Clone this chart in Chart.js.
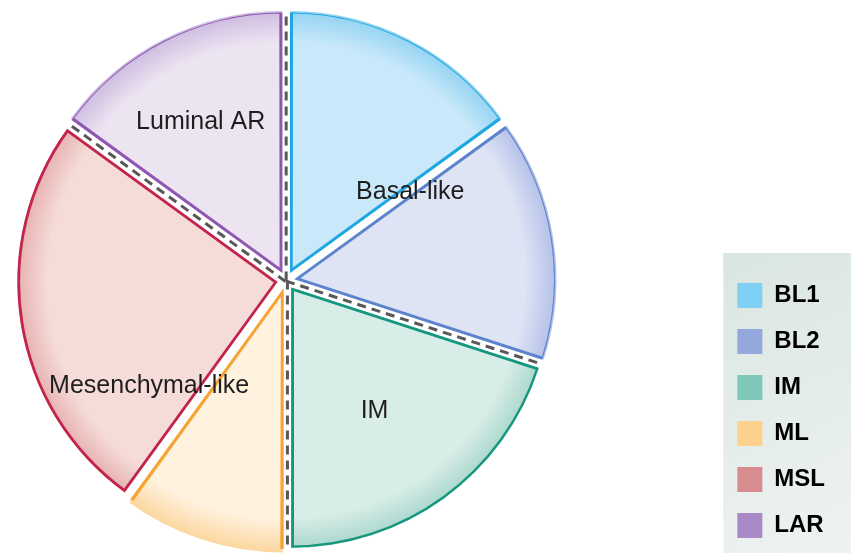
<!DOCTYPE html>
<html>
<head>
<meta charset="utf-8">
<title>TNBC subtypes</title>
<script src="https://cdn.jsdelivr.net/npm/chart.js@4.4.1/dist/chart.umd.min.js"></script>
<style>
  html, body { margin: 0; padding: 0; background: #fff; overflow: hidden; }
  #frame { width: 851px; height: 553px; overflow: hidden; position: relative; }
  /* the canvas is wider than the frame so the pie can sit left of the plot area's middle */
  #subtypeChart { display: block; position: absolute; left: -144px; top: 0; }
</style>
</head>
<body>
<div id="frame">
  <canvas id="subtypeChart" width="995" height="553"></canvas>
</div>
<script>
  // share of each subtype (percent), clockwise from 12 o'clock
  const subtypes = ['BL1', 'BL2', 'IM', 'ML', 'MSL', 'LAR'];
  const shares = [15, 15, 20, 10, 25, 15];

  // subtypes that belong together get one caption and dashed dividers around them
  const groupNames = ['Basal-like', 'IM', 'Mesenchymal-like', 'Luminal AR'];
  const groupMembers = [['BL1', 'BL2'], ['IM'], ['ML', 'MSL'], ['LAR']];

  const sliceFill = ['#c9e9fa', '#dfe4f5', '#d8ede7', '#fff2df', '#f5dcd9', '#ece4f1'];
  const sliceRim = ['#8fd1f2', '#afbde7', '#a5d5ca', '#fcd69e', '#e4acab', '#ccb8df'];
  const sliceEdge = ['#1ea7e1', '#5b84cc', '#14977e', '#f6a434', '#c3244b', '#8f57b1'];
  const keyColors = ['#7fd0f5', '#95a8de', '#7fc7bb', '#fdd18c', '#d98c8f', '#aa89c8'];

  const RADIUS = 260;
  const EXPLODE = 36;   // arc offset option, every slice moves out by a quarter of it

  // caption placement: fraction of the radius, and a small turn in degrees
  const captionDepth = [0.59, 0.6, 0.66, 0.7];
  const captionTurn = [0, 1.5, -10, -1];

  function pieCenter(chart) {
    const a = chart.chartArea;
    return { x: (a.left + a.right) / 2, y: (a.top + a.bottom) / 2 };
  }

  function sliceGradient(ctx) {
    const chart = ctx.chart;
    const i = ctx.dataIndex;
    if (!chart.chartArea) return sliceFill[i];
    const c = pieCenter(chart);
    const g = chart.ctx.createRadialGradient(c.x, c.y, 0, c.x, c.y, RADIUS + 4);
    g.addColorStop(0, sliceFill[i]);
    g.addColorStop(0.87, sliceFill[i]);
    g.addColorStop(1, sliceRim[i]);
    return g;
  }

  // light panel behind the legend
  const keyPanel = {
    id: 'keyPanel',
    beforeDraw(chart) {
      const lg = chart.legend;
      if (!lg || !lg.legendHitBoxes.length) return;
      const ctx = chart.ctx;
      const x = lg.left + 7;
      const y = lg.legendHitBoxes[0].top - 30;
      const g = ctx.createLinearGradient(x, y, chart.width, chart.height);
      g.addColorStop(0, '#dae6e1');
      g.addColorStop(1, '#eef3f1');
      ctx.save();
      ctx.fillStyle = g;
      ctx.fillRect(x, y, chart.width - x, chart.height - y);
      ctx.restore();
    }
  };

  // dashed dividers between groups, run down the middle of the white gap
  const dividers = {
    id: 'dividers',
    afterDatasetsDraw(chart) {
      const arcs = chart.getDatasetMeta(0).data;
      const ctx = chart.ctx;
      const shift = EXPLODE / 4;
      ctx.save();
      ctx.strokeStyle = '#585858';
      ctx.lineWidth = 3;
      ctx.setLineDash([9, 6]);
      groupMembers.forEach(members => {
        const b = subtypes.indexOf(members[0]);
        const a = (b + subtypes.length - 1) % subtypes.length;
        const arcA = arcs[a], arcB = arcs[b];
        const phi = arcB.startAngle;
        const hA = (arcA.endAngle - arcA.startAngle) / 2;
        const hB = (arcB.endAngle - arcB.startAngle) / 2;
        const n = shift * (Math.sin(hB) - Math.sin(hA)) / 2;
        const ox = arcB.x - Math.sin(phi) * n;
        const oy = arcB.y + Math.cos(phi) * n;
        const len = arcB.outerRadius + shift - 1;
        ctx.beginPath();
        ctx.moveTo(ox, oy);
        ctx.lineTo(ox + Math.cos(phi) * len, oy + Math.sin(phi) * len);
        ctx.stroke();
      });
      ctx.restore();
    }
  };

  // group captions inside the pie
  const captions = {
    id: 'captions',
    afterDatasetsDraw(chart) {
      const arcs = chart.getDatasetMeta(0).data;
      const ctx = chart.ctx;
      ctx.save();
      ctx.fillStyle = '#1e1e1e';
      ctx.font = '25px "Liberation Sans", Arial, sans-serif';
      ctx.textAlign = 'center';
      ctx.textBaseline = 'middle';
      groupMembers.forEach((members, g) => {
        const first = arcs[subtypes.indexOf(members[0])];
        const last = arcs[subtypes.indexOf(members[members.length - 1])];
        const mid = (first.startAngle + last.endAngle) / 2 + captionTurn[g] * Math.PI / 180;
        const r = first.outerRadius * captionDepth[g];
        ctx.fillText(groupNames[g], first.x + Math.cos(mid) * r, first.y + Math.sin(mid) * r + 2);
      });
      ctx.restore();
    }
  };

  new Chart(document.getElementById('subtypeChart'), {
    type: 'pie',
    data: {
      labels: subtypes,
      datasets: [{
        data: shares,
        backgroundColor: sliceGradient,
        borderColor: sliceEdge,
        borderWidth: 2.5,
        borderAlign: 'inner',
        offset: EXPLODE,
        hoverOffset: 0
      }]
    },
    options: {
      responsive: false,
      animation: false,
      radius: RADIUS,
      layout: { padding: { left: 0, right: 16, top: 8, bottom: -6 } },
      plugins: {
        tooltip: { enabled: false },
        legend: {
          position: 'right',
          align: 'end',
          labels: {
            boxWidth: 25,
            boxHeight: 25,
            padding: 21,
            color: '#1c1c1c',
            font: { family: 'Liberation Sans', size: 24, weight: 'bold' },
            generateLabels: () => subtypes.map((name, i) => ({
              text: name,
              fillStyle: keyColors[i],
              strokeStyle: keyColors[i],
              lineWidth: 0,
              hidden: false,
              index: i
            }))
          }
        }
      }
    },
    plugins: [keyPanel, dividers, captions]
  });
</script>
</body>
</html>
